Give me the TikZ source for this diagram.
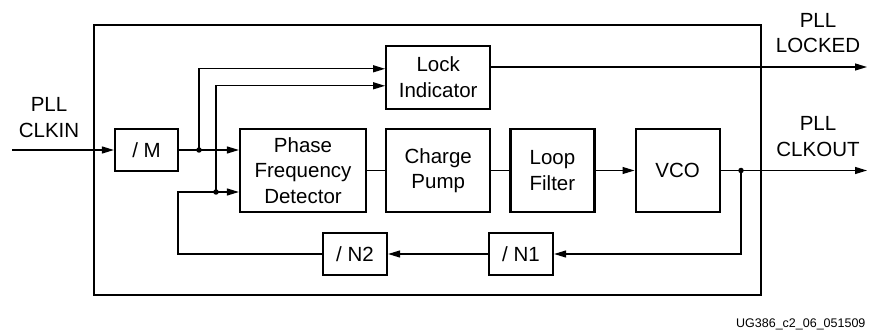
\documentclass[tikz,border=0pt]{standalone}
\usepackage{fontspec}
\setmainfont{Liberation Sans}
\usetikzlibrary{positioning,arrows.meta}

\begin{document}
\begin{tikzpicture}[
    x=1pt, y=-1pt,
    node distance=18pt,
    block/.style={draw, rectangle, line width=2.2pt, align=center, inner sep=0pt, font=\fontsize{20.5}{25.5}\selectfont},
    pin label/.style={align=center, font=\fontsize{20.5}{25.5}\selectfont},
    arrow/.style={-{Triangle[length=12pt,width=7pt]}, line width=1.2pt},
    wire/.style={line width=1.2pt},
    dot/.style={circle, fill, inner sep=0pt, minimum size=5.5pt}
]

\useasboundingbox (0,0) rectangle (870,331);
\draw[line width=2.6pt] (94,25) rectangle (761,295);

\node[block, minimum width=63pt, minimum height=42pt] (div_m) at (146.5,150) {/ M};
\node[block, minimum width=126pt, minimum height=83pt] (pfd) at (303,170.5) {Phase\\Frequency\\Detector};
\node[block, minimum width=104pt, minimum height=83pt, right=of pfd] (cp) {Charge\\Pump};
\node[block, minimum width=84pt, minimum height=83pt, right=of cp] (lf) {Loop\\Filter};
\node[block, minimum width=84pt, minimum height=83pt, right=39pt of lf] (vco) {VCO};
\node[block, minimum width=104pt, minimum height=63pt, above=of cp] (lock) {Lock\\Indicator};
\node[block, minimum width=64pt, minimum height=42pt] (n1) at (521,254) {/ N1};
\node[block, minimum width=64pt, minimum height=42pt] (n2) at (355,254) {/ N2};

\node[pin label] (clkin_label) at (49,117.5) {PLL\\CLKIN};
\node[pin label] (locked_label) at (818,33) {PLL\\LOCKED};
\node[pin label] (clkout_label) at (818,136.5) {PLL\\CLKOUT};
\node[anchor=east, font=\fontsize{12.5}{15}\selectfont] (fig_id) at (869,324) {UG386\_c2\_06\_051509};

\coordinate (clkin) at (12,150);
\coordinate (split_m) at (199,150);
\coordinate (split_fb) at (216,192);
\coordinate (fb_corner) at (178,254);
\coordinate (split_out) at (741,170.5);
\coordinate (clkout) at (867,170.5);
\coordinate (locked) at (867,67);

\draw[arrow] (clkin) -- (div_m);
\draw[arrow] (div_m) -- (pfd.west |- div_m);
\draw[arrow] (split_m) |- ([yshift=8.5pt]lock.west);
\draw[arrow] (split_fb) |- ([yshift=-8.5pt]lock.west);
\draw[arrow] (n2) -- (fb_corner) |- (pfd.west |- split_fb);
\draw[wire] (pfd) -- (cp);
\draw[wire] (cp) -- (lf);
\draw[arrow] (lf) -- (vco);
\draw[arrow] (vco) -- (clkout);
\draw[arrow] (split_out) |- (n1);
\draw[arrow] (n1) -- (n2);
\draw[arrow] (lock.east |- locked) -- (locked);

\node[dot] (dot_m) at (split_m) {};
\node[dot] (dot_fb) at (split_fb) {};
\node[dot] (dot_out) at (split_out) {};

\end{tikzpicture}
\end{document}
